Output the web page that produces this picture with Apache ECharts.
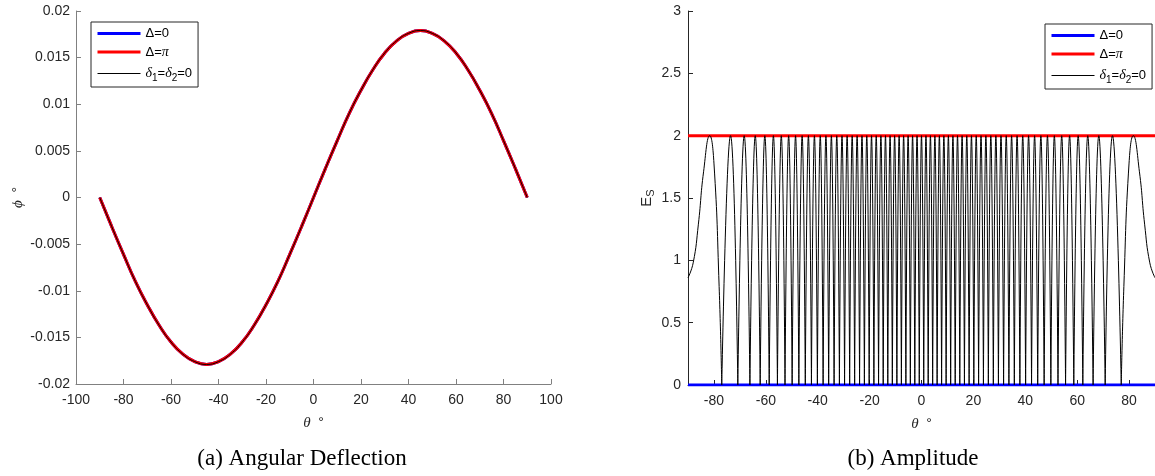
<!DOCTYPE html>
<html>
<head>
<meta charset="utf-8">
<script src="https://cdn.jsdelivr.net/npm/echarts@6/dist/echarts.min.js"></script>
<style>
  html, body { margin: 0; padding: 0; background: #fff; }
  #chart { width: 1155px; height: 476px; }
</style>
</head>
<body>
<div id="chart"></div>
<script>
const thetaA = [-90, -85, -80, -75, -70, -65, -60, -55, -50, -45, -40, -35, -30, -25, -20, -15, -10, -5, 0,
  5, 10, 15, 20, 25, 30, 35, 40, 45, 50, 55, 60, 65, 70, 75, 80, 85, 90]
const phiA = [0, -0.0031, -0.0061, -0.009, -0.0115, -0.0137, -0.0155, -0.0168, -0.0176, -0.0179, -0.0176, -0.0168, -0.0155, -0.0137, -0.0115, -0.009, -0.0061, -0.0031, 0,
  0.0031, 0.0061, 0.009, 0.0115, 0.0137, 0.0155, 0.0168, 0.0176, 0.0179, 0.0176, 0.0168, 0.0155, 0.0137, 0.0115, 0.009, 0.0061, 0.0031, 0]

// (b) Amplitude
const flatTheta = [-90, 90]
const deltaZeroLevel = [0, 0]
const deltaPiLevel = [2, 2]
// angles where the black curve touches 0
const zeroTheta = [-76.99, -70.8, -66.14, -62.18, -58.7, -55.53, -52.61, -49.86, -47.27, -44.79, -42.42, -40.13,
  -37.92, -35.78, -33.69, -31.64, -29.65, -27.69, -25.77, -23.87, -22.01, -20.17, -18.35, -16.55, -14.76, -12.99,
  -11.24, -9.49, -7.75, -6.02, -4.3, -2.58, -0.86, 0.86, 2.58, 4.3, 6.02, 7.75, 9.49, 11.24, 12.99, 14.76, 16.55,
  18.35, 20.17, 22.01, 23.87, 25.77, 27.69, 29.65, 31.64, 33.69, 35.78, 37.92, 40.13, 42.42, 44.79, 47.27, 49.86,
  52.61, 55.53, 58.7, 62.18, 66.14, 70.8, 76.99]
// angles where it touches 2 (inner lobes)
const peakTheta = [-73.61, -68.34, -64.08, -60.39, -57.08, -54.04, -51.21, -48.55, -46.01, -43.59, -41.27, -39.02,
  -36.84, -34.73, -32.66, -30.64, -28.67, -26.72, -24.82, -22.94, -21.09, -19.26, -17.45, -15.65, -13.88, -12.11,
  -10.36, -8.62, -6.89, -5.16, -3.44, -1.72, 0, 1.72, 3.44, 5.16, 6.89, 8.62, 10.36, 12.11, 13.88, 15.65, 17.45,
  19.26, 21.09, 22.94, 24.82, 26.72, 28.67, 30.64, 32.66, 34.73, 36.84, 39.02, 41.27, 43.59, 46.01, 48.55, 51.21,
  54.04, 57.08, 60.39, 64.08, 68.34, 73.61]
const peakLevel = 2
// the two wide outer lobes
const edgeLeftTheta = [-90, -88, -86, -84, -81.63, -80, -78]
const edgeLeftVal = [0.86, 0.98, 1.29, 1.71, 2, 1.78, 0.79]
const edgeRightTheta = [78, 80, 81.63, 84, 86, 88, 90]
const edgeRightVal = [0.79, 1.78, 2, 1.71, 1.29, 0.98, 0.86]

const xTicksB = [-80, -60, -40, -20, 0, 20, 40, 60, 80]

const dataA = thetaA.map((t, i) => [t, phiA[i]])
const pair = (xs, ys) => xs.map((x, i) => [x, ys[i]])

// one smoothed piece per lobe, broken at each zero so the bottoms stay sharp
const esData = []
edgeLeftTheta.forEach((t, i) => esData.push([t, edgeLeftVal[i]]))
esData.push([zeroTheta[0], 0], [zeroTheta[0], '-'])
for (let i = 0; i < peakTheta.length; i++) {
  esData.push([zeroTheta[i], 0], [peakTheta[i], peakLevel], [zeroTheta[i + 1], 0], [zeroTheta[i + 1], '-'])
}
esData.push([zeroTheta[zeroTheta.length - 1], 0])
edgeRightTheta.forEach((t, i) => esData.push([t, edgeRightVal[i]]))

const sans = 'Liberation Sans'
const serif = 'Liberation Serif'
const ink = '#262626'

const legendRich = {
  n: { fontFamily: sans, fontSize: 13, color: '#000', lineHeight: 18 },
  g: { fontFamily: serif, fontStyle: 'italic', fontSize: 14, color: '#000', lineHeight: 18 },
  s: { fontFamily: sans, fontSize: 10, color: '#000', lineHeight: 10, padding: [9, 0, 0, 0] }
}
const legendText = {
  'Δ=0': '{n|Δ=0}',
  'Δ=π': '{n|Δ=}{g|π}',
  'δ1=δ2=0': '{g|δ}{s|1}{n|=}{g|δ}{s|2}{n|=0}'
}
function makeLegend(left, top) {
  return {
    left: left,
    top: top,
    orient: 'vertical',
    data: [
      { name: 'Δ=0', lineStyle: { width: 3 } },
      { name: 'Δ=π', lineStyle: { width: 3 } },
      { name: 'δ1=δ2=0', lineStyle: { width: 1 } }
    ],
    itemWidth: 43,
    itemHeight: 14,
    itemGap: 5,
    padding: [5, 6, 4, 5],
    borderColor: ink,
    borderWidth: 1,
    backgroundColor: '#fff',
    itemStyle: { opacity: 0 },
    formatter: name => legendText[name],
    textStyle: { rich: legendRich }
  }
}

function axisStyle(lineColor) {
  return {
    axisLine: { onZero: false, lineStyle: { color: lineColor, width: 1 } },
    axisTick: { inside: true, length: 5, lineStyle: { color: lineColor } },
    splitLine: { show: false }
  }
}
const labelStyle = { color: ink, fontSize: 14, fontFamily: sans }
const nameStyle = {
  color: ink,
  fontSize: 14,
  fontFamily: sans,
  rich: {
    t: { fontFamily: serif, fontStyle: 'italic', fontSize: 15, color: ink },
    e: { fontFamily: sans, fontSize: 15, color: ink, lineHeight: 15 },
    s: { fontFamily: sans, fontSize: 11, color: ink, lineHeight: 11, padding: [8, 0, 0, 0] }
  }
}

const chart = echarts.init(document.getElementById('chart'))
chart.setOption({
  animation: false,
  backgroundColor: '#fff',
  grid: [
    { left: 76, top: 11, width: 475, height: 373 },
    { left: 688, top: 11, width: 474, height: 374 }
  ],
  legend: [makeLegend(91, 22), makeLegend(1045, 24)],
  xAxis: [
    Object.assign({
      gridIndex: 0, type: 'value', min: -100, max: 100, interval: 20,
      axisLabel: Object.assign({ margin: 9 }, labelStyle),
      name: '{t|θ}  °', nameLocation: 'middle', nameGap: 32, nameTextStyle: nameStyle
    }, axisStyle('#808080')),
    Object.assign({
      gridIndex: 1, type: 'value', min: -90, max: 90,
      axisLabel: Object.assign({ margin: 9, customValues: xTicksB }, labelStyle),
      axisTick: { inside: true, length: 5, customValues: xTicksB, lineStyle: { color: ink } },
      name: '{t|θ}  °', nameLocation: 'middle', nameGap: 32, nameTextStyle: nameStyle
    }, { axisLine: { onZero: false, lineStyle: { color: ink, width: 1 } }, splitLine: { show: false } }),
  ],
  yAxis: [
    Object.assign({
      gridIndex: 0, type: 'value', min: -0.02, max: 0.02, interval: 0.005,
      axisLabel: Object.assign({ margin: 6, formatter: v => String(+v.toFixed(3)) }, labelStyle),
      name: '{t|ϕ}  °', nameLocation: 'middle', nameGap: 50, nameTextStyle: nameStyle
    }, axisStyle('#808080')),
    Object.assign({
      gridIndex: 1, type: 'value', min: 0, max: 3, interval: 0.5,
      axisLabel: Object.assign({ margin: 7 }, labelStyle),
      name: '{e|E}{s|S}', nameLocation: 'middle', nameGap: 34, nameTextStyle: nameStyle
    }, axisStyle(ink))
  ],
  series: [
    { name: 'Δ=0', type: 'line', xAxisIndex: 0, yAxisIndex: 0, data: dataA, smooth: true, symbol: 'none',
      lineStyle: { color: '#0000ff', width: 3 }, itemStyle: { color: '#0000ff' } },
    { name: 'Δ=π', type: 'line', xAxisIndex: 0, yAxisIndex: 0, data: dataA, smooth: true, symbol: 'none',
      lineStyle: { color: '#ff0000', width: 3 }, itemStyle: { color: '#ff0000' } },
    { name: 'δ1=δ2=0', type: 'line', xAxisIndex: 0, yAxisIndex: 0, data: dataA, smooth: true, symbol: 'none',
      lineStyle: { color: '#000', width: 1 }, itemStyle: { color: '#000' } },
    { name: 'Δ=0', type: 'line', xAxisIndex: 1, yAxisIndex: 1, data: pair(flatTheta, deltaZeroLevel), symbol: 'none',
      lineStyle: { color: '#0000ff', width: 3 }, itemStyle: { color: '#0000ff' } },
    { name: 'Δ=π', type: 'line', xAxisIndex: 1, yAxisIndex: 1, data: pair(flatTheta, deltaPiLevel), symbol: 'none',
      lineStyle: { color: '#ff0000', width: 3 }, itemStyle: { color: '#ff0000' } },
    { name: 'δ1=δ2=0', type: 'line', xAxisIndex: 1, yAxisIndex: 1, data: esData, smooth: 0.5, symbol: 'none',
      connectNulls: false, lineStyle: { color: '#000', width: 1 }, itemStyle: { color: '#000' } }
  ],
  graphic: [
    { type: 'text', x: 302, y: 459, style: { text: '(a) Angular Deflection', font: '23px "Liberation Serif"', fill: '#000', align: 'center', verticalAlign: 'middle' } },
    { type: 'text', x: 913, y: 459, style: { text: '(b) Amplitude', font: '23px "Liberation Serif"', fill: '#000', align: 'center', verticalAlign: 'middle' } }
  ]
})
</script>
</body>
</html>
